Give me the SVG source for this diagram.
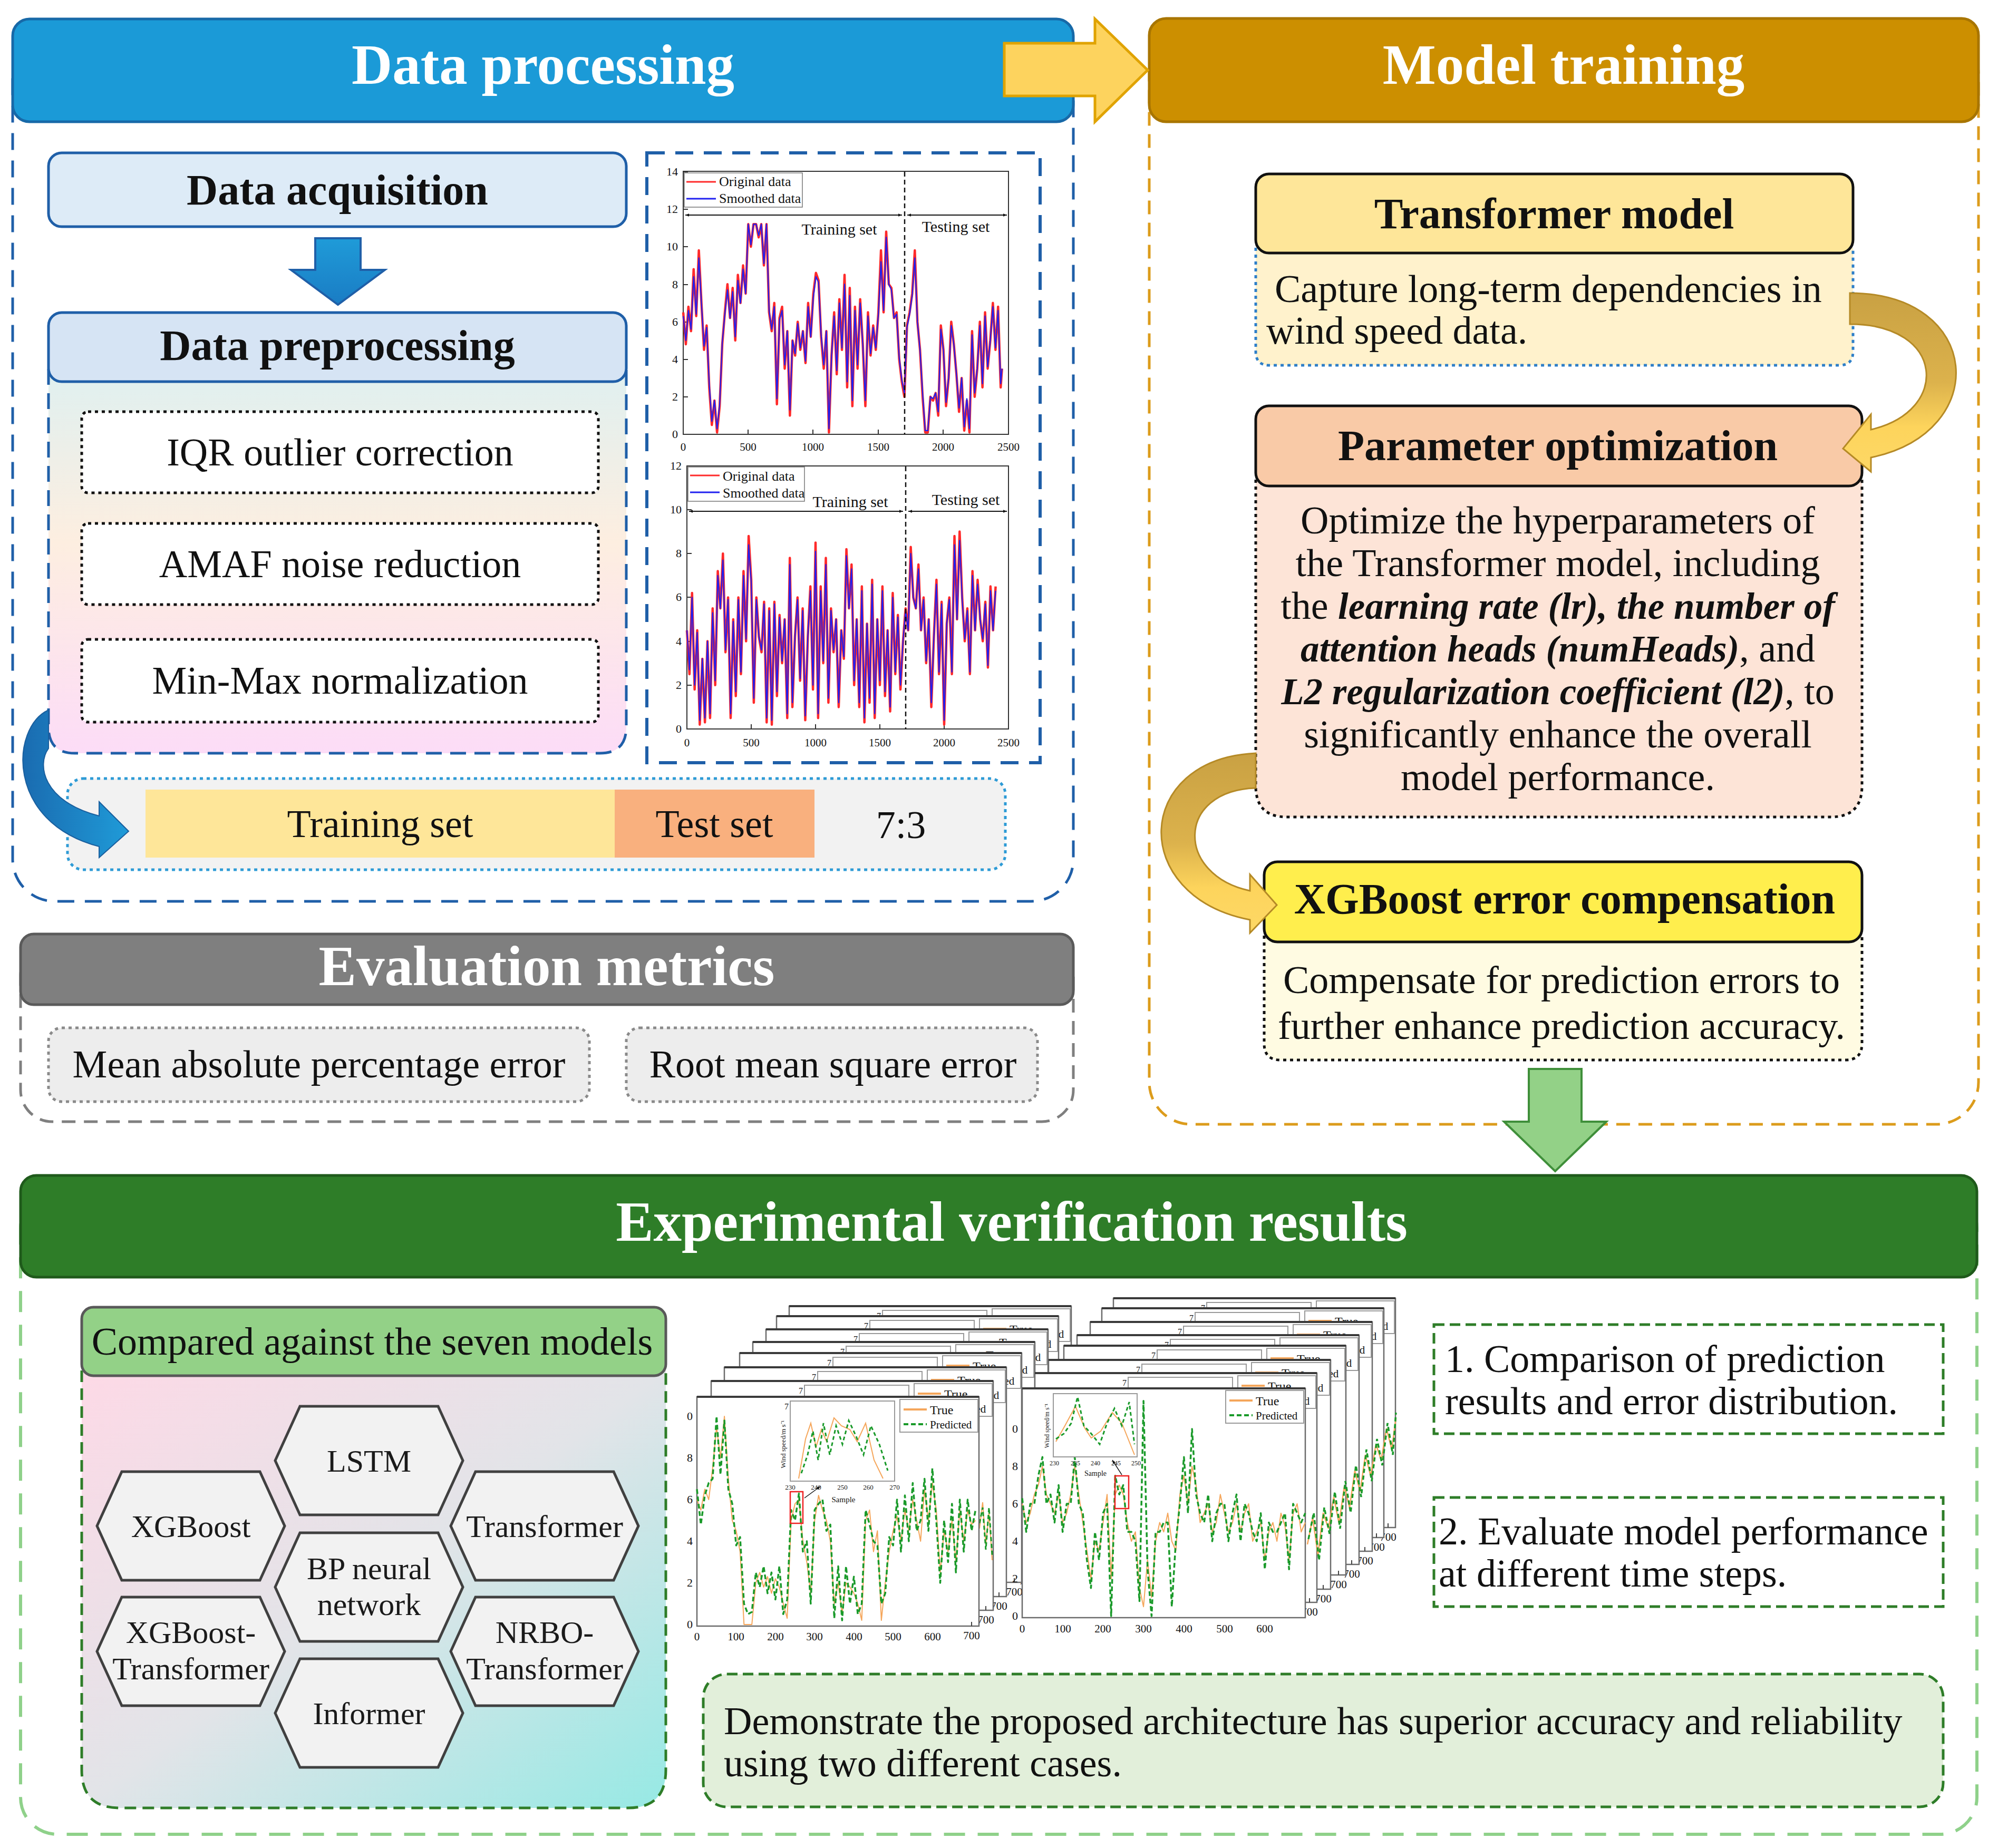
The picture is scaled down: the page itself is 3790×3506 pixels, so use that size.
<svg xmlns="http://www.w3.org/2000/svg" width="3790" height="3506" viewBox="0 0 3790 3506" font-family="'Liberation Serif', 'Times New Roman', serif">
<style>
text { font-family: 'Liberation Serif', 'Times New Roman', serif; fill: #111; }
.hd { font-weight: bold; font-size: 107px; fill: #fff; text-anchor: middle; }
.bh { font-weight: bold; font-size: 82px; text-anchor: middle; }
.rg { font-size: 74px; }
.mid { text-anchor: middle; }
.bi { font-weight: bold; font-style: italic; font-size: 71px; }
.tk { font-size: 22px; }
.tk2 { font-size: 21px; text-anchor: middle; }
.hx { font-size: 60px; text-anchor: middle; fill: #1a1a1a; }
.dot { stroke-dasharray: 6 7; }
.ns { vector-effect: non-scaling-stroke; fill: none; stroke-linejoin: round; }
</style>
<defs>
  <linearGradient id="gPre" x1="0" y1="0" x2="0" y2="1">
    <stop offset="0" stop-color="#dff0f0"/>
    <stop offset="0.45" stop-color="#fdeee0"/>
    <stop offset="1" stop-color="#fcdcf7"/>
  </linearGradient>
  <linearGradient id="gCmp" x1="0" y1="0" x2="1" y2="1">
    <stop offset="0" stop-color="#fdd9e6"/>
    <stop offset="0.5" stop-color="#e2e4e8"/>
    <stop offset="1" stop-color="#96e9e4"/>
  </linearGradient>
  <linearGradient id="gBlue" x1="0" y1="0" x2="1" y2="0">
    <stop offset="0" stop-color="#1a6bb0"/>
    <stop offset="1" stop-color="#1f9bd8"/>
  </linearGradient>
  <linearGradient id="gGold" x1="0" y1="0" x2="0" y2="1">
    <stop offset="0" stop-color="#c9a143"/>
    <stop offset="0.5" stop-color="#dcb24c"/>
    <stop offset="0.75" stop-color="#fdd45c"/>
    <stop offset="1" stop-color="#fdd866"/>
  </linearGradient>
  <linearGradient id="gDown" x1="0" y1="0" x2="0" y2="1">
    <stop offset="0" stop-color="#1f9bd8"/>
    <stop offset="1" stop-color="#1a7cc4"/>
  </linearGradient>
  <marker id="ah" viewBox="0 0 10 10" refX="10" refY="5" markerWidth="7" markerHeight="7" orient="auto-start-reverse" markerUnits="userSpaceOnUse">
    <path d="M0,1 L10,5 L0,9 Z" fill="#111"/>
  </marker>
  <polygon id="hex" points="-178,0 -131,-103 131,-103 178,0 131,103 -131,103" fill="#f2f2f2" stroke="#404040" stroke-width="5"/>
  <g id="pf">
    <rect x="0" y="0" width="535" height="435" fill="#fff" stroke="#6b6b6b" stroke-width="2.5"/>
    <line x1="0" y1="0" x2="535" y2="0" stroke="#3a3a3a" stroke-width="4"/>
    <rect x="177" y="8" width="198" height="152" fill="#fff" stroke="#9a9a9a" stroke-width="2"/>
    <text x="166" y="24" font-size="16">7</text>
    <rect x="385" y="5" width="148" height="62" fill="#fff" stroke="#9a9a9a" stroke-width="2"/>
    <line x1="392" y1="24" x2="436" y2="24" stroke="#f5a65b" stroke-width="4"/>
    <text x="442" y="33" font-size="24">True</text>
    <line x1="392" y1="52" x2="436" y2="52" stroke="#1a9a2a" stroke-width="4" stroke-dasharray="9 5"/>
    <text x="442" y="60" font-size="21">Predicted</text>
    <line x1="521" y1="435" x2="521" y2="427" stroke="#444" stroke-width="2"/>
    <text x="521" y="460" font-size="21" text-anchor="middle">700</text>
  </g>
</defs>

<rect width="3790" height="3506" fill="#ffffff"/>

<!-- ================= DATA PROCESSING ================= -->
<g id="data-processing">
  <rect x="24" y="60" width="2012" height="1650" rx="80" fill="none" stroke="#1f5fa8" stroke-width="5" stroke-dasharray="32 20"/>
  <rect x="24" y="36" width="2012" height="195" rx="32" fill="#1b9ad7" stroke="#1769a8" stroke-width="5"/>
  <text class="hd" x="1030" y="159">Data processing</text>
</g>

<g id="data-acquisition">
  <rect x="92" y="290" width="1096" height="140" rx="25" fill="#ddebf7" stroke="#1f5fa8" stroke-width="5"/>
  <text class="bh" x="640" y="388" font-size="84">Data acquisition</text>
</g>

<g id="data-preprocessing">
  <path d="M92,700 V1379 Q92,1429 142,1429 H1138 Q1188,1429 1188,1379 V700" fill="url(#gPre)" stroke="#1f5fa8" stroke-width="5" stroke-dasharray="30 16"/>
  <rect x="92" y="593" width="1096" height="131" rx="25" fill="#d6e4f4" stroke="#1f5fa8" stroke-width="5"/>
  <text class="bh" x="640" y="683" font-size="83">Data preprocessing</text>
</g>

<g id="iqr">
  <rect x="155" y="781" width="980" height="154" rx="12" fill="#fff" stroke="#111" stroke-width="5" class="dot"/>
  <text class="rg mid" x="645" y="883" font-size="73">IQR outlier correction</text>
</g>
<g id="amaf">
  <rect x="155" y="993" width="980" height="154" rx="12" fill="#fff" stroke="#111" stroke-width="5" class="dot"/>
  <text class="rg mid" x="645" y="1095" font-size="73">AMAF noise reduction</text>
</g>
<g id="minmax">
  <rect x="155" y="1213" width="980" height="157" rx="12" fill="#fff" stroke="#111" stroke-width="5" class="dot"/>
  <text class="rg mid" x="645" y="1316" font-size="73">Min-Max normalization</text>
</g>

<g id="split-bar">
  <rect x="128" y="1477" width="1779" height="173" rx="30" fill="#f2f2f2" stroke="#2e9bd6" stroke-width="5" class="dot"/>
  <rect x="276" y="1498" width="890" height="129" fill="#fee699"/>
  <rect x="1166" y="1498" width="379" height="129" fill="#f9b07e"/>
  <text class="rg mid" x="721" y="1588" font-size="73">Training set</text>
  <text class="rg mid" x="1355" y="1588" font-size="73">Test set</text>
  <text class="rg mid" x="1709" y="1590" font-size="80">7:3</text>
</g>

<!-- charts -->
<g id="data-charts">
  <rect x="1227" y="290" width="746" height="1157" fill="#fff" stroke="#1f5fa8" stroke-width="6" stroke-dasharray="34 20"/>
  <!-- chart 1 -->
  <rect x="1296" y="325" width="617" height="499" fill="#fff" stroke="#333" stroke-width="2"/>
  <path d="M1296,824h9M1296,753h9M1296,682h9M1296,611h9M1296,540h9M1296,468h9M1296,397h9M1296,326h9M1419,824v-9M1542,824v-9M1666,824v-9M1789,824v-9" stroke="#333" stroke-width="2" fill="none"/>
  <g class="tk" text-anchor="end">
    <text x="1286" y="831">0</text><text x="1286" y="760">2</text><text x="1286" y="689">4</text><text x="1286" y="618">6</text>
    <text x="1286" y="547">8</text><text x="1286" y="475">10</text><text x="1286" y="404">12</text><text x="1286" y="333">14</text>
  </g>
  <g class="tk2">
    <text x="1296" y="855">0</text><text x="1419" y="855">500</text><text x="1542" y="855">1000</text><text x="1666" y="855">1500</text><text x="1789" y="855">2000</text><text x="1913" y="855">2500</text>
  </g>
  <g transform="translate(1296,824) scale(0.2468,-35.6)">
    <path class="ns" stroke="#ff2a2a" stroke-width="4.5" d="M0,6.5 20,4.8 40,6.8 60,5.5 80,8.8 100,6.3 120,9.8 140,7 160,4.5 180,5.8 200,2.5 220,0.5 240,1.8 260,0.1 280,1.5 300,4.8 320,6.5 340,8 360,6.2 380,7.8 400,5 420,8.5 440,7 460,9 480,7.5 500,11.2 520,10 540,11.2 560,11.2 580,10.5 600,11.2 620,9 640,11.2 660,6.5 680,5.5 700,7 720,1.6 740,6.2 760,6.8 780,3.5 800,5.5 820,1 840,5 860,4.2 880,6 900,4.5 920,5.5 940,3.8 960,7 980,5.2 1000,7.5 1020,8.6 1040,8.2 1060,5.2 1080,3.5 1100,5.5 1120,0.1 1140,4.2 1160,6.5 1180,3.2 1200,7.2 1220,4.5 1240,8.5 1260,2.5 1280,7.8 1300,1.5 1320,6.8 1340,3.5 1360,7.2 1380,4.8 1400,1.5 1420,6.5 1440,4.2 1460,5.8 1480,4.5 1500,6.5 1520,9.8 1540,6.5 1560,10.8 1580,8 1600,7.8 1620,6.2 1640,6.5 1660,4 1680,2.8 1700,2 1720,5.8 1740,6.5 1760,7.5 1780,9.8 1800,6 1820,4.5 1840,2 1860,0.1 1880,0.1 1900,2 1920,1.8 1940,2.2 1960,1 1980,5.8 2000,4.5 2020,1.5 2040,3 2060,6 2080,4.8 2100,3.2 2120,1.2 2140,3 2160,0.2 2180,1.8 2200,0.1 2220,5.5 2240,2 2260,3.5 2280,6 2300,2.5 2320,6.5 2340,3.5 2360,5 2380,7 2400,4.5 2420,6.8 2440,2.5 2450,3.5"/>
    <path class="ns" stroke="#2020f0" stroke-width="2.2" d="M0,6.3 20,5 40,6.6 60,5.6 80,8.4 100,6.4 120,9.4 140,7 160,4.7 180,5.7 200,2.7 220,0.7 240,1.8 260,0.3 280,1.6 300,4.9 320,6.4 340,7.7 360,6.2 380,7.6 400,5.2 420,8.2 440,7 460,8.8 480,7.5 500,11.2 520,10.1 540,11.2 560,11.2 580,10.6 600,11.2 620,9.1 640,11.2 660,6.6 680,5.6 700,6.8 720,1.9 740,6.1 760,6.6 780,3.7 800,5.5 820,1.3 840,5 860,4.3 880,5.9 900,4.6 920,5.5 940,3.9 960,6.8 980,5.2 1000,7.3 1020,8.4 1040,8.1 1060,5.3 1080,3.7 1100,5.5 1120,0.3 1140,4.2 1160,6.3 1180,3.4 1200,7 1220,4.6 1240,8 1260,2.8 1280,7.4 1300,1.8 1320,6.6 1340,3.7 1360,7 1380,4.8 1400,1.8 1420,6.3 1440,4.3 1460,5.7 1480,4.6 1500,6.4 1520,9.2 1540,6.6 1560,10.5 1580,8 1600,7.7 1620,6.2 1640,6.4 1660,4.1 1680,2.9 1700,2.2 1720,5.7 1740,6.4 1760,7.4 1780,9.4 1800,6 1820,4.5 1840,2.2 1860,0.2 1880,0.2 1900,2 1920,1.9 1940,2.2 1960,1.2 1980,5.6 2000,4.5 2020,1.7 2040,3 2060,5.8 2080,4.8 2100,3.2 2120,1.4 2140,3 2160,0.4 2180,1.9 2200,0.3 2220,5.3 2240,2.2 2260,3.5 2280,5.8 2300,2.7 2320,6.3 2340,3.6 2360,5 2380,6.8 2400,4.6 2420,6.6 2440,2.7 2450,3.5"/>
  </g>
  <line x1="1716" y1="326" x2="1716" y2="824" stroke="#111" stroke-width="2.5" stroke-dasharray="9 6"/>
  <line x1="1300" y1="408" x2="1711" y2="408" stroke="#111" stroke-width="2" marker-start="url(#ah)" marker-end="url(#ah)"/>
  <line x1="1721" y1="408" x2="1910" y2="408" stroke="#111" stroke-width="2" marker-start="url(#ah)" marker-end="url(#ah)"/>
  <text x="1592" y="445" font-size="30" text-anchor="middle">Training set</text>
  <text x="1813" y="440" font-size="30" text-anchor="middle">Testing set</text>
  <rect x="1298" y="328" width="224" height="65" fill="#fff" stroke="#777" stroke-width="1.5"/>
  <line x1="1302" y1="345" x2="1358" y2="345" stroke="#ff2a2a" stroke-width="3"/>
  <line x1="1302" y1="377" x2="1358" y2="377" stroke="#2020f0" stroke-width="3"/>
  <text x="1364" y="353" font-size="26">Original data</text>
  <text x="1364" y="385" font-size="26">Smoothed data</text>

  <!-- chart 2 -->
  <rect x="1303" y="884" width="610" height="499" fill="#fff" stroke="#333" stroke-width="2"/>
  <path d="M1303,1383h9M1303,1300h9M1303,1217h9M1303,1133h9M1303,1050h9M1303,967h9M1303,884h9M1425,1383v-9M1547,1383v-9M1669,1383v-9M1791,1383v-9" stroke="#333" stroke-width="2" fill="none"/>
  <g class="tk" text-anchor="end">
    <text x="1293" y="1390">0</text><text x="1293" y="1307">2</text><text x="1293" y="1224">4</text><text x="1293" y="1140">6</text>
    <text x="1293" y="1057">8</text><text x="1293" y="974">10</text><text x="1293" y="891">12</text>
  </g>
  <g class="tk2">
    <text x="1303" y="1416">0</text><text x="1425" y="1416">500</text><text x="1547" y="1416">1000</text><text x="1669" y="1416">1500</text><text x="1791" y="1416">2000</text><text x="1913" y="1416">2500</text>
  </g>
  <g transform="translate(1303,1383) scale(0.244,-41.6)">
    <path class="ns" stroke="#ff2a2a" stroke-width="4.5" d="M0,4.5 20,2.5 40,6.2 60,1.8 80,4.5 100,0.2 120,3.2 140,0.3 160,4 180,0.5 200,5.5 220,2 240,7.2 260,5.5 280,8 300,3.5 320,6 340,0.5 360,5 380,1.5 400,6 420,2.5 440,7.2 460,4 480,8.8 500,6.8 520,1.2 540,6 560,4.2 580,3.5 600,5.8 620,0.3 640,5.5 660,0.2 680,5.8 700,1.5 720,5.2 740,3 760,5 780,0.5 800,7.8 820,1 840,4.2 860,6 880,2.2 900,5.5 920,0.4 940,4.2 960,6.5 980,1.8 1000,8.5 1020,0.5 1040,6.5 1060,3 1080,7.8 1100,1.2 1120,5.5 1140,3.5 1160,5 1180,1 1200,4.5 1220,3.2 1240,8.2 1260,5.5 1280,7.5 1300,2 1320,5 1340,1 1360,6.5 1380,0.3 1400,4.8 1420,1.2 1440,6.8 1460,0.5 1480,5 1500,2 1520,6.5 1540,1.5 1560,4.5 1580,0.8 1600,6.2 1620,2.5 1640,5.2 1660,1.8 1680,4 1700,5.5 1720,4.5 1740,8.3 1760,6 1780,5.5 1800,7.5 1820,4.5 1840,6 1860,3 1880,5 1900,1 1920,4.2 1940,6.8 1960,2.5 1980,5.8 2000,0.2 2020,4.8 2040,6 2060,2.5 2080,8.8 2100,5 2120,9 2140,6 2160,4 2180,5.5 2200,2.5 2220,7.2 2240,4.5 2260,6.8 2280,5 2300,4 2320,5.8 2340,2.8 2360,6.5 2380,4.5 2400,6.5"/>
    <path class="ns" stroke="#2020f0" stroke-width="2.2" d="M0,4.5 20,2.7 40,6 60,2 80,4.4 100,0.4 120,3.2 140,0.5 160,4 180,0.7 200,5.3 220,2.2 240,7 260,5.5 280,7.7 300,3.6 320,5.9 340,0.7 360,4.9 380,1.7 400,5.9 420,2.6 440,7 460,4.1 480,8.4 500,6.7 520,1.4 540,5.9 560,4.2 580,3.6 600,5.7 620,0.5 640,5.4 660,0.4 680,5.7 700,1.7 720,5.1 740,3.1 760,5 780,0.7 800,7.5 820,1.2 840,4.2 860,5.9 880,2.3 900,5.4 920,0.6 940,4.2 960,6.3 980,2 1000,8.1 1020,0.7 1040,6.3 1060,3.1 1080,7.5 1100,1.4 1120,5.4 1140,3.6 1160,5 1180,1.2 1200,4.5 1220,3.3 1240,7.9 1260,5.5 1280,7.3 1300,2.2 1320,5 1340,1.2 1360,6.3 1380,0.5 1400,4.8 1420,1.4 1440,6.6 1460,0.7 1480,5 1500,2.2 1520,6.3 1540,1.7 1560,4.5 1580,1 1600,6 1620,2.6 1640,5.1 1660,2 1680,4 1700,5.4 1720,4.5 1740,8 1760,6 1780,5.5 1800,7.3 1820,4.5 1840,5.9 1860,3.1 1880,5 1900,1.2 1920,4.2 1940,6.6 1960,2.6 1980,5.7 2000,0.4 2020,4.8 2040,5.9 2060,2.6 2080,8.4 2100,5 2120,8.6 2140,5.9 2160,4.1 2180,5.4 2200,2.6 2220,7 2240,4.5 2260,6.6 2280,5 2300,4.1 2320,5.7 2340,2.9 2360,6.3 2380,4.5 2400,6.3"/>
  </g>
  <line x1="1718" y1="885" x2="1718" y2="1383" stroke="#111" stroke-width="2.5" stroke-dasharray="9 6"/>
  <line x1="1307" y1="970" x2="1713" y2="970" stroke="#111" stroke-width="2" marker-start="url(#ah)" marker-end="url(#ah)"/>
  <line x1="1723" y1="970" x2="1910" y2="970" stroke="#111" stroke-width="2" marker-start="url(#ah)" marker-end="url(#ah)"/>
  <text x="1613" y="962" font-size="30" text-anchor="middle">Training set</text>
  <text x="1832" y="958" font-size="30" text-anchor="middle">Testing set</text>
  <rect x="1305" y="886" width="221" height="65" fill="#fff" stroke="#777" stroke-width="1.5"/>
  <line x1="1309" y1="902" x2="1365" y2="902" stroke="#ff2a2a" stroke-width="3"/>
  <line x1="1309" y1="934" x2="1365" y2="934" stroke="#2020f0" stroke-width="3"/>
  <text x="1371" y="912" font-size="26">Original data</text>
  <text x="1371" y="944" font-size="26">Smoothed data</text>
</g>

<!-- ================= EVALUATION METRICS ================= -->
<g id="evaluation-metrics">
  <rect x="39" y="1790" width="1997" height="338" rx="60" fill="none" stroke="#7f7f7f" stroke-width="5" stroke-dasharray="26 16"/>
  <rect x="39" y="1772" width="1997" height="134" rx="25" fill="#7f7f7f" stroke="#5a5a5a" stroke-width="5"/>
  <text class="hd" x="1037" y="1869">Evaluation metrics</text>
</g>
<g id="mape">
  <rect x="92" y="1950" width="1026" height="140" rx="25" fill="#ededed" stroke="#8a8a8a" stroke-width="5" class="dot"/>
  <text class="rg mid" x="605" y="2044" font-size="75">Mean absolute percentage error</text>
</g>
<g id="rmse">
  <rect x="1188" y="1950" width="780" height="140" rx="25" fill="#ededed" stroke="#8a8a8a" stroke-width="5" class="dot"/>
  <text class="rg mid" x="1580" y="2044" font-size="75">Root mean square error</text>
</g>

<!-- ================= MODEL TRAINING ================= -->
<g id="model-training">
  <rect x="2180" y="60" width="1573" height="2073" rx="80" fill="none" stroke="#dc9c1c" stroke-width="5" stroke-dasharray="26 16"/>
  <rect x="2180" y="35" width="1573" height="196" rx="32" fill="#cc8f00" stroke="#a87500" stroke-width="5"/>
  <text class="hd" x="2966" y="159">Model training</text>
</g>

<g id="transformer-model">
  <path d="M2382,470 V667 Q2382,693 2408,693 H3489 Q3515,693 3515,667 V470" fill="#fff2cc" stroke="#2e7fc8" stroke-width="5" class="dot"/>
  <rect x="2382" y="330" width="1133" height="150" rx="25" fill="#fee699" stroke="#111" stroke-width="5"/>
  <text class="bh" x="2948" y="433">Transformer model</text>
  <text class="rg" x="2418" y="573">Capture long-term dependencies in</text>
  <text class="rg" x="2402" y="652">wind speed data.</text>
</g>

<g id="parameter-optimization">
  <path d="M2382,910 V1491 Q2382,1550 2441,1550 H3473 Q3532,1550 3532,1491 V910" fill="#fde4d7" stroke="#111" stroke-width="5" class="dot"/>
  <rect x="2382" y="770" width="1150" height="152" rx="25" fill="#f9caa7" stroke="#111" stroke-width="5"/>
  <text class="bh" x="2955" y="873">Parameter optimization</text>
  <g class="rg mid">
    <text x="2955" y="1012">Optimize the hyperparameters of</text>
    <text x="2955" y="1093">the Transformer model, including</text>
    <text x="2955" y="1174">the <tspan class="bi">learning rate (lr), the number of</tspan></text>
    <text x="2955" y="1255"><tspan class="bi">attention heads (numHeads)</tspan>, and</text>
    <text x="2955" y="1336"><tspan class="bi">L2 regularization coefficient (l2)</tspan>, to</text>
    <text x="2955" y="1418">significantly enhance the overall</text>
    <text x="2955" y="1499">model performance.</text>
  </g>
</g>

<g id="xgboost-compensation">
  <path d="M2398,1775 V1980 Q2398,2011 2429,2011 H3501 Q3532,2011 3532,1980 V1775" fill="#fffbe2" stroke="#111" stroke-width="5" class="dot"/>
  <rect x="2398" y="1635" width="1134" height="152" rx="25" fill="#ffee4d" stroke="#111" stroke-width="5"/>
  <text class="bh" x="2968" y="1733" font-size="80">XGBoost error compensation</text>
  <text class="rg mid" x="2962" y="1884">Compensate for prediction errors to</text>
  <text class="rg mid" x="2962" y="1971">further enhance prediction accuracy.</text>
</g>

<!-- ================= EXPERIMENTAL VERIFICATION ================= -->
<g id="experimental-verification">
  <rect x="39" y="2260" width="3711" height="1220" rx="70" fill="none" stroke="#8fd18a" stroke-width="6" stroke-dasharray="40 24"/>
  <rect x="39" y="2230" width="3711" height="193" rx="30" fill="#2e7d28" stroke="#1f5a1b" stroke-width="5"/>
  <text class="hd" x="1919" y="2354">Experimental verification results</text>
</g>

<g id="compared-models">
  <path d="M155,2600 V3358 Q155,3430 227,3430 H1191 Q1263,3430 1263,3358 V2600" fill="url(#gCmp)" stroke="#2e7d28" stroke-width="5" stroke-dasharray="22 12"/>
  <rect x="155" y="2480" width="1108" height="130" rx="22" fill="#93d187" stroke="#595959" stroke-width="5"/>
  <text class="rg mid" x="706" y="2570" font-size="75">Compared against the seven models</text>
</g>
<g id="hex-lstm"><use href="#hex" transform="translate(700,2771)"/><text class="hx" x="700" y="2792">LSTM</text></g>
<g id="hex-xgboost"><use href="#hex" transform="translate(362,2895)"/><text class="hx" x="362" y="2916">XGBoost</text></g>
<g id="hex-transformer"><use href="#hex" transform="translate(1033,2895)"/><text class="hx" x="1033" y="2916">Transformer</text></g>
<g id="hex-bp"><use href="#hex" transform="translate(700,3011)"/><text class="hx" x="700" y="2996">BP neural</text><text class="hx" x="700" y="3064">network</text></g>
<g id="hex-xgb-transformer"><use href="#hex" transform="translate(362,3133)"/><text class="hx" x="362" y="3117">XGBoost-</text><text class="hx" x="362" y="3186">Transformer</text></g>
<g id="hex-nrbo"><use href="#hex" transform="translate(1033,3133)"/><text class="hx" x="1033" y="3117">NRBO-</text><text class="hx" x="1033" y="3186">Transformer</text></g>
<g id="hex-informer"><use href="#hex" transform="translate(700,3250)"/><text class="hx" x="700" y="3271">Informer</text></g>

<!-- stacked result plots -->
<g id="result-plots">
  <use href="#pf" transform="translate(1497,2478)"/>
  <use href="#pf" transform="translate(1473,2497)"/>
  <use href="#pf" transform="translate(1453,2522)"/>
  <use href="#pf" transform="translate(1428,2546)"/>
  <use href="#pf" transform="translate(1403,2567)"/>
  <use href="#pf" transform="translate(1374,2594)"/>
  <use href="#pf" transform="translate(1349,2620)"/>
  <polyline points="1858,2900 1864,2850 1870,2930 1876,2870 1882,2960" fill="none" stroke="#f5a65b" stroke-width="2"/>
  <polyline points="1858,2890 1864,2860 1870,2940 1876,2860 1882,2950" fill="none" stroke="#1a9a2a" stroke-width="3" stroke-dasharray="8 5"/>
  <!-- left front -->
  <use href="#pf" transform="translate(1322,2650)"/>
  <g transform="translate(1322,3082) scale(0.7443,-39.5)">
    <path class="ns" stroke="#f5a65b" stroke-width="2" d="M0,6 10,5.5 20,6.5 30,6 40,7.5 50,9.5 60,8 70,10 80,7 90,5 100,4.5 110,3.5 120,0 130,0 140,0 150,2 160,2.5 170,1.8 180,2.3 190,1.5 200,2.2 210,1.8 220,1 230,0.3 240,5 250,5.8 260,6 270,4 280,3 290,1.5 300,5 310,6.2 320,5.5 330,5 340,4 350,1 360,2 370,0.5 380,2 390,1.8 400,1.5 410,1 420,0.2 430,5 440,5.5 450,3.5 460,4.5 470,0.2 480,2 490,3.5 500,4.5 510,5.2 520,4 530,5.5 540,4.5 550,6 560,5 570,4 580,6.5 590,5 600,6.8 610,5.5 620,2.5 630,4.5 640,3.5 650,5 660,3 670,5.5 680,4 690,5.5 700,4.8 710,5"/>
    <path class="ns" stroke="#1a9a2a" stroke-width="3.5" stroke-dasharray="9 5" d="M0,6.5 10,4.8 20,6.2 30,6.8 40,7 50,10 60,7.2 70,9.8 80,6.5 90,5.8 100,3.8 110,4.2 120,1 130,0.5 140,0.6 150,2.5 160,1.8 170,2.8 180,1.5 190,2.5 200,1.2 210,2.8 220,0.5 230,1.2 240,5.5 250,5 260,6.3 270,3.5 280,4 290,1 300,5.5 310,5.8 320,6 330,4.5 340,4.8 350,0.3 360,2.8 370,0.2 380,2.8 390,1 400,2.3 410,0.5 420,1 430,5.5 440,4.8 450,4 460,3.8 470,1 480,1.5 490,4.2 500,3.8 510,6 520,3.5 530,6.2 540,4 550,6.8 560,4.5 570,5 580,7 590,4.5 600,7.5 610,5 620,2 630,5 640,3 650,5.8 660,2.5 670,6 680,3.5 690,6 700,4.5 710,5.5"/>
  </g>
  <rect x="1499" y="2658" width="198" height="152" fill="#fff" stroke="#9a9a9a" stroke-width="2"/>
  <polyline points="1515,2805 1528,2730 1538,2700 1548,2745 1558,2712 1568,2735 1582,2690 1596,2705 1612,2712 1626,2735 1642,2700 1658,2770 1675,2805" fill="none" stroke="#f5a65b" stroke-width="2"/>
  <polyline points="1520,2795 1532,2760 1542,2715 1552,2770 1562,2700 1574,2760 1586,2705 1598,2740 1610,2695 1624,2725 1638,2760 1652,2705 1668,2740 1684,2790" fill="none" stroke="#1a9a2a" stroke-width="3" stroke-dasharray="7 5"/>
  <text x="1490" y="2740" font-size="13" text-anchor="middle" transform="rotate(-90 1490 2740)">Wind speed/m s⁻¹</text>
  <g font-size="13" text-anchor="middle"><text x="1499" y="2826">230</text><text x="1548" y="2826">240</text><text x="1598" y="2826">250</text><text x="1647" y="2826">260</text><text x="1697" y="2826">270</text></g>
  <text x="1600" y="2850" font-size="15" text-anchor="middle">Sample</text>
  <rect x="1499" y="2830" width="24" height="60" fill="none" stroke="#ee2222" stroke-width="2.5"/>
  <line x1="1526" y1="2842" x2="1556" y2="2820" stroke="#111" stroke-width="1.5" marker-end="url(#ah)"/>
  <g class="tk2">
    <text x="1322" y="3112">0</text><text x="1396" y="3112">100</text><text x="1471" y="3112">200</text><text x="1545" y="3112">300</text><text x="1620" y="3112">400</text><text x="1694" y="3112">500</text><text x="1769" y="3112">600</text>
  </g>
  <g class="tk" text-anchor="end">
    <text x="1314" y="3089">0</text><text x="1314" y="3010">2</text><text x="1314" y="2931">4</text><text x="1314" y="2852">6</text><text x="1314" y="2773">8</text><text x="1314" y="2694">0</text>
  </g>

  <!-- right stack -->
  <use href="#pf" transform="translate(2112,2463)"/>
  <use href="#pf" transform="translate(2090,2482)"/>
  <use href="#pf" transform="translate(2068,2508)"/>
  <use href="#pf" transform="translate(2043,2533)"/>
  <use href="#pf" transform="translate(2018,2553)"/>
  <use href="#pf" transform="translate(1989,2580)"/>
  <use href="#pf" transform="translate(1963,2605)"/>
  <polyline points="2480,2930 2490,2880 2500,2950 2510,2870 2520,2900 2530,2840 2540,2890 2550,2820 2560,2860 2570,2790 2580,2830 2590,2760 2600,2800 2610,2740 2620,2770 2630,2710 2640,2750 2648,2690" fill="none" stroke="#f5a65b" stroke-width="2.5"/>
  <polyline points="2482,2920 2492,2870 2502,2960 2512,2860 2522,2910 2532,2830 2542,2900 2552,2810 2562,2870 2572,2780 2582,2840 2592,2750 2602,2810 2612,2730 2622,2780 2632,2700 2642,2760 2648,2680" fill="none" stroke="#1a9a2a" stroke-width="3.5" stroke-dasharray="8 5"/>
  <!-- right front -->
  <rect x="1939" y="2634" width="537" height="435" fill="#fff" stroke="#6b6b6b" stroke-width="2.5"/>
  <line x1="1939" y1="2634" x2="2476" y2="2634" stroke="#3a3a3a" stroke-width="4"/>
  <g transform="translate(1939,3066) scale(0.767,-35.5)">
    <path class="ns" stroke="#f5a65b" stroke-width="2" d="M0,6 10,5 20,5.5 30,6.5 40,7 50,8 60,6.5 70,6 80,5.5 90,6.5 100,5 110,5.5 120,6.5 130,8 140,6.5 150,5 160,3.5 170,2 180,4 190,3.5 200,5 210,6.5 220,2 230,6.5 240,7 250,6.5 260,5 270,4 280,4.5 290,1.5 300,0.5 310,3 320,1 330,4 340,5 350,4.5 360,5.5 370,4 380,3.5 390,6.5 400,7.5 410,6 420,8 430,7 440,5 450,5.5 460,6 470,4.5 480,5 490,6.5 500,5.5 510,4.5 520,5 530,6 540,4.5 550,5.5 560,6 570,4 580,4.5 590,5 600,3 610,4.5 620,5 630,4 640,5.5 650,4.8 660,3 670,5.5 680,6 690,4.5 700,5"/>
    <path class="ns" stroke="#1a9a2a" stroke-width="3.5" stroke-dasharray="9 5" d="M0,6.3 10,4.5 20,6 30,6 40,7.5 50,8.5 60,6 70,6.5 80,5 90,7 100,4.5 110,6 120,6 130,8.5 140,6 150,5.5 160,3 170,1.5 180,4.5 190,3 200,5.5 210,6 220,0 230,7.5 240,6.5 250,7 260,4.5 270,4.5 280,4 290,0.8 300,11.5 310,2.5 320,0 330,4.5 340,4.5 350,5 360,5 370,0.5 380,4 390,6 400,8.5 410,5.5 420,10 430,6.5 440,5.5 450,5 460,6.5 470,4 480,5.5 490,6 500,6 510,4 520,5.5 530,6.5 540,4 550,6 560,5.5 570,4.5 580,4 590,5.5 600,2.5 610,5 620,4.5 630,4.5 640,5 650,5.5 660,2.5 670,6 680,5.5 690,5 700,5.5"/>
  </g>
  <rect x="1998" y="2644" width="159" height="120" fill="#fff" stroke="#9a9a9a" stroke-width="2"/>
  <polyline points="2003,2735 2020,2705 2040,2668 2058,2710 2070,2728 2088,2715 2110,2680 2128,2700 2152,2760" fill="none" stroke="#f5a65b" stroke-width="2"/>
  <polyline points="2003,2730 2018,2720 2032,2700 2044,2650 2056,2705 2070,2720 2086,2740 2100,2700 2114,2672 2128,2705 2142,2660 2152,2740" fill="none" stroke="#1a9a2a" stroke-width="3" stroke-dasharray="7 5"/>
  <text x="1990" y="2705" font-size="12" text-anchor="middle" transform="rotate(-90 1990 2705)">Wind speed/m s⁻¹</text>
  <g font-size="12" text-anchor="middle"><text x="2000" y="2780">230</text><text x="2040" y="2780">235</text><text x="2078" y="2780">240</text><text x="2117" y="2780">245</text><text x="2155" y="2780">250</text></g>
  <text x="2078" y="2800" font-size="14" text-anchor="middle">Sample</text>
  <rect x="2325" y="2638" width="148" height="62" fill="#fff" stroke="#9a9a9a" stroke-width="2"/>
  <line x1="2332" y1="2657" x2="2376" y2="2657" stroke="#f5a65b" stroke-width="4"/>
  <text x="2382" y="2666" font-size="24">True</text>
  <line x1="2332" y1="2685" x2="2376" y2="2685" stroke="#1a9a2a" stroke-width="4" stroke-dasharray="9 5"/>
  <text x="2382" y="2693" font-size="21">Predicted</text>
  <rect x="2115" y="2800" width="26" height="62" fill="none" stroke="#ee2222" stroke-width="2.5"/>
  <line x1="2128" y1="2798" x2="2110" y2="2770" stroke="#111" stroke-width="1.5" marker-end="url(#ah)"/>
  <g class="tk2">
    <text x="1939" y="3097">0</text><text x="2016" y="3097">100</text><text x="2092" y="3097">200</text><text x="2169" y="3097">300</text><text x="2246" y="3097">400</text><text x="2323" y="3097">500</text><text x="2399" y="3097">600</text>
  </g>
  <g class="tk" text-anchor="end">
    <text x="1931" y="3073">0</text><text x="1931" y="3002">2</text><text x="1931" y="2931">4</text><text x="1931" y="2860">6</text><text x="1931" y="2789">8</text><text x="1931" y="2718">0</text>
  </g>
</g>

<g id="note-comparison">
  <rect x="2720" y="2513" width="966" height="207" fill="#fff" stroke="#2e7d28" stroke-width="5" stroke-dasharray="20 10"/>
  <text class="rg" x="2741" y="2603" font-size="73">1. Comparison of prediction</text>
  <text class="rg" x="2741" y="2683" font-size="73">results and error distribution.</text>
</g>
<g id="note-timesteps">
  <rect x="2720" y="2841" width="966" height="207" fill="#fff" stroke="#2e7d28" stroke-width="5" stroke-dasharray="20 10"/>
  <text class="rg" x="2729" y="2930" font-size="73">2. Evaluate model performance</text>
  <text class="rg" x="2729" y="3010" font-size="73">at different time steps.</text>
</g>
<g id="conclusion">
  <rect x="1334" y="3176" width="2352" height="252" rx="45" fill="#e2efda" stroke="#2e7d28" stroke-width="5" stroke-dasharray="20 10"/>
  <text class="rg" x="1373" y="3290">Demonstrate the proposed architecture has superior accuracy and reliability</text>
  <text class="rg" x="1373" y="3370">using two different cases.</text>
</g>

<!-- ================= CONNECTORS ================= -->
<g id="connectors">
  <polygon points="1905,82 2077,82 2077,36 2177,133 2077,231 2077,182 1905,182" fill="#fdd35e" stroke="#e0a300" stroke-width="5" stroke-linejoin="miter"/>
  <polygon points="598,452 684,452 684,512 730,512 641,578 552,512 598,512" fill="url(#gDown)" stroke="#1f5fa8" stroke-width="4"/>
  <path d="M92,1347 C20,1380 10,1560 188,1606 L188,1627 L244,1577 L188,1521 L188,1548 C80,1520 70,1450 92,1420 Z" fill="url(#gBlue)" stroke="#1a5f9e" stroke-width="2"/>
  <path d="M3509,556 C3760,556 3780,820 3549,868 L3549,895 L3496,851 L3549,786 L3549,815 C3700,780 3690,615 3509,615 Z" fill="url(#gGold)" stroke="#b58a26" stroke-width="3"/>
  <path d="M2382,1429 C2150,1440 2140,1700 2371,1745 L2371,1770 L2422,1717 L2371,1659 L2371,1690 C2230,1660 2230,1500 2382,1495 Z" fill="url(#gGold)" stroke="#b58a26" stroke-width="3"/>
  <polygon points="2900,2028 3000,2028 3000,2128 3047,2128 2950,2222 2853,2128 2900,2128" fill="#93d187" stroke="#3f8f3a" stroke-width="4"/>
</g>
</svg>
